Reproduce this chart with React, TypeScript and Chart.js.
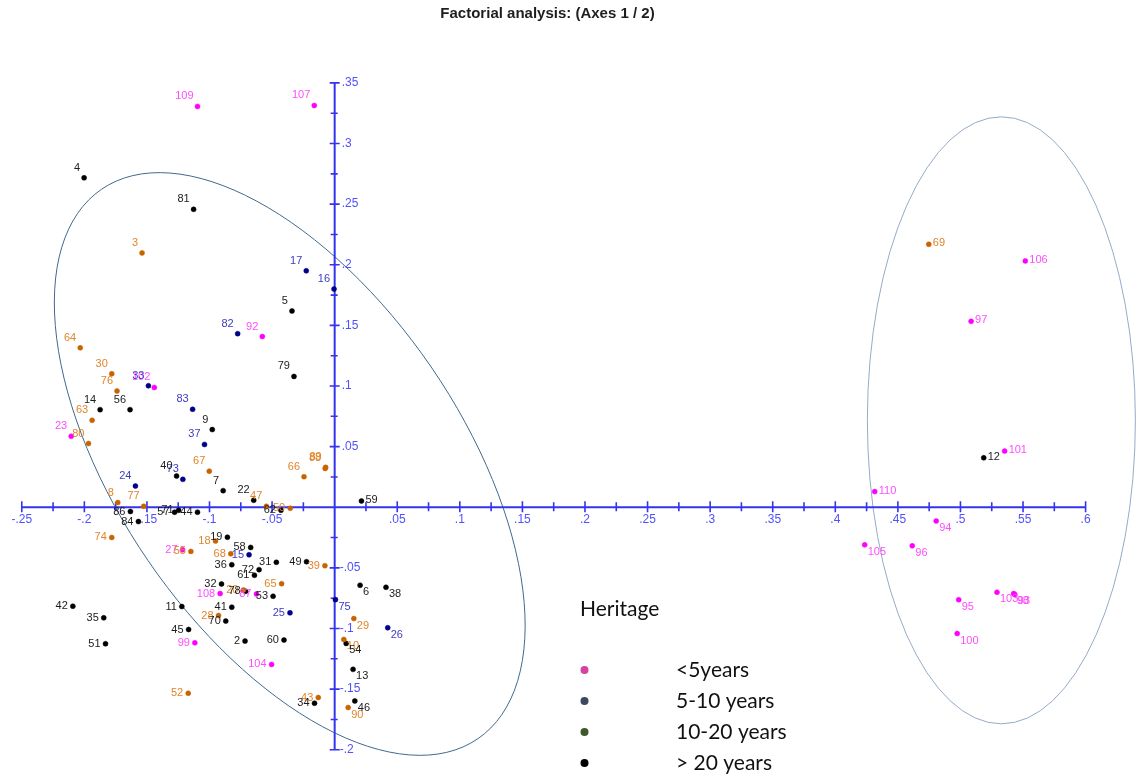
import { useEffect, useRef } from "react";
import { Chart, registerables } from "chart.js";

Chart.register(...registerables);

const CANVAS_W = 1141;
const CANVAS_H = 777;

const chartTitle = "Factorial analysis: (Axes 1 / 2)";
const legendTitle = "Heritage";
const groupNames = ["<5years", "5-10 years", "10-20 years", "> 20 years"];

// Heritage < 5 years
const under5Ids = ["109", "107", "92", "102", "23", "27", "108", "87", "99", "104", "106", "97", "101", "110", "94", "105", "96", "103", "98", "93", "95", "100"];
const under5X = [-0.1096, -0.0163, -0.0578, -0.1441, -0.2105, -0.1215, -0.0915, -0.0625, -0.1117, -0.0504, 0.5518, 0.5085, 0.5353, 0.4315, 0.4806, 0.4235, 0.4615, 0.5292, 0.5425, 0.5434, 0.4986, 0.4974];
const under5Y = [0.3306, 0.3314, 0.1408, 0.0988, 0.0586, -0.0351, -0.0712, -0.0715, -0.1118, -0.1296, 0.2032, 0.1534, 0.0463, 0.0129, -0.0113, -0.031, -0.0318, -0.0701, -0.0712, -0.0719, -0.0762, -0.1041];

// Heritage 5-10 years
const from5to10Ids = ["17", "16", "82", "33", "83", "37", "73", "24", "15", "25", "75", "26"];
const from5to10X = [-0.0227, -0.0005, -0.0775, -0.1488, -0.1135, -0.104, -0.1213, -0.1592, -0.0684, -0.0357, 0.0006, 0.0424];
const from5to10Y = [0.195, 0.18, 0.1432, 0.1002, 0.0808, 0.0518, 0.023, 0.0175, -0.0392, -0.0871, -0.0762, -0.0994];

// Heritage 10-20 years
const from10to20Ids = ["3", "64", "30", "76", "63", "80", "67", "66", "88", "89", "8", "77", "47", "50", "74", "18", "55", "68", "39", "65", "20", "28", "52", "43", "29", "10", "90", "69"];
const from10to20X = [-0.1539, -0.2033, -0.1781, -0.1739, -0.1938, -0.1967, -0.1002, -0.0245, -0.0076, -0.0072, -0.1733, -0.1526, -0.0546, -0.0355, -0.1781, -0.0952, -0.1149, -0.083, -0.0078, -0.0424, -0.0729, -0.0928, -0.117, -0.0131, 0.0153, 0.0073, 0.0108, 0.4747];
const from10to20Y = [0.2098, 0.1315, 0.1101, 0.0959, 0.0717, 0.0526, 0.0298, 0.0252, 0.032, 0.0329, 0.0039, 0.0008, 0.0008, -0.0008, -0.0249, -0.0279, -0.0364, -0.0384, -0.0482, -0.063, -0.0682, -0.0893, -0.1534, -0.1569, -0.0918, -0.109, -0.1652, 0.2169];

// Heritage > 20 years
const over20Ids = ["4", "81", "5", "79", "14", "56", "9", "40", "7", "22", "59", "86", "84", "57", "71", "44", "62", "19", "58", "36", "31", "49", "72", "61", "32", "78", "53", "11", "41", "70", "45", "2", "60", "34", "42", "35", "51", "6", "38", "54", "13", "46", "12"];
const over20X = [-0.2002, -0.1127, -0.0341, -0.0325, -0.1874, -0.1635, -0.0978, -0.1263, -0.0891, -0.0647, 0.0214, -0.1632, -0.1568, -0.1279, -0.1247, -0.1096, -0.0429, -0.0857, -0.0671, -0.0822, -0.0466, -0.0225, -0.0604, -0.0641, -0.0904, -0.0711, -0.0492, -0.1221, -0.0822, -0.087, -0.1167, -0.0716, -0.0405, -0.0161, -0.2092, -0.1845, -0.1831, 0.0203, 0.041, 0.0092, 0.0147, 0.0161, 0.5186];
const over20Y = [0.2717, 0.2457, 0.1619, 0.1079, 0.0805, 0.0805, 0.0641, 0.0257, 0.0137, 0.0058, 0.0052, -0.0035, -0.0118, -0.0041, -0.0025, -0.0041, -0.0025, -0.0247, -0.0331, -0.0474, -0.0454, -0.0449, -0.0515, -0.0561, -0.0633, -0.0693, -0.0734, -0.0819, -0.0824, -0.0939, -0.1008, -0.1104, -0.1095, -0.1616, -0.0816, -0.0912, -0.1126, -0.0643, -0.066, -0.1123, -0.1337, -0.1597, 0.0408];

// Axis ticks
const xAxisRange = [-0.25, 0.6];
const yAxisRange = [-0.2, 0.35];
const xMajorTicks = [-0.25, -0.2, -0.15, -0.1, -0.05, 0.05, 0.1, 0.15, 0.2, 0.25, 0.3, 0.35, 0.4, 0.45, 0.5, 0.55, 0.6];
const xTickLabels = ["-.25", "-.2", "-.15", "-.1", "-.05", ".05", ".1", ".15", ".2", ".25", ".3", ".35", ".4", ".45", ".5", ".55", ".6"];
const xMinorTicks = [-0.225, -0.175, -0.125, -0.075, -0.025, 0.025, 0.075, 0.125, 0.175, 0.225, 0.275, 0.325, 0.375, 0.425, 0.475, 0.525, 0.575];
const yMajorTicks = [-0.2, -0.15, -0.1, -0.05, 0.05, 0.1, 0.15, 0.2, 0.25, 0.3, 0.35];
const yTickLabels = ["-.2", "-.15", "-.1", "-.05", ".05", ".1", ".15", ".2", ".25", ".3", ".35"];
const yMinorTicks = [-0.175, -0.125, -0.075, -0.025, 0.025, 0.075, 0.125, 0.175, 0.225, 0.275, 0.325];

// Group colours: marker fill and label text
const groupStyles = [
  { point: "#ff00ff", text: "#ff4cff" },
  { point: "#000088", text: "#3c3cc0" },
  { point: "#c86400", text: "#e0852a" },
  { point: "#000000", text: "#1c1c1c" },
];
const legendDotColors = ["#d5439f", "#3c4962", "#3e5a2a", "#000000"];

// Cluster outlines: centre in axis units, radii in pixels
const clusterOutlines = [
  { cx: -0.0359, cy: 0.0357, rx: 333, ry: 171.5, rotationDeg: 55.6, color: "#41698c" },
  { cx: 0.5327, cy: 0.0717, rx: 134, ry: 303.5, rotationDeg: 0, color: "#94abc6" },
];

const AXIS_BLUE = "#3434ee";
const TICK_TEXT = "#5050ff";
const LABEL_FONT = "11px 'Liberation Sans', Arial, sans-serif";
const TICK_FONT = "12px 'Liberation Sans', Arial, sans-serif";

const groups = [
  { ids: under5Ids, xs: under5X, ys: under5Y },
  { ids: from5to10Ids, xs: from5to10X, ys: from5to10Y },
  { ids: from10to20Ids, xs: from10to20X, ys: from10to20Y },
  { ids: over20Ids, xs: over20X, ys: over20Y },
];

const clusterOutlinePlugin = {
  id: "clusterOutlines",
  beforeDatasetsDraw(chart: any) {
    const { ctx, scales } = chart;
    ctx.save();
    ctx.lineWidth = 1;
    clusterOutlines.forEach((e) => {
      ctx.strokeStyle = e.color;
      ctx.beginPath();
      ctx.ellipse(
        scales.x.getPixelForValue(e.cx),
        scales.y.getPixelForValue(e.cy),
        e.rx,
        e.ry,
        (e.rotationDeg * Math.PI) / 180,
        0,
        Math.PI * 2
      );
      ctx.stroke();
    });
    ctx.restore();
  },
};

const crossAxesPlugin = {
  id: "crossAxes",
  beforeDatasetsDraw(chart: any) {
    const { ctx, scales } = chart;
    const sx = scales.x;
    const sy = scales.y;
    const x0 = sx.getPixelForValue(0);
    const y0 = sy.getPixelForValue(0);
    ctx.save();
    ctx.strokeStyle = AXIS_BLUE;
    ctx.lineWidth = 2;
    ctx.beginPath();
    ctx.moveTo(sx.getPixelForValue(xAxisRange[0]), y0);
    ctx.lineTo(sx.getPixelForValue(xAxisRange[1]), y0);
    ctx.moveTo(x0, sy.getPixelForValue(yAxisRange[0]));
    ctx.lineTo(x0, sy.getPixelForValue(yAxisRange[1]));
    ctx.stroke();

    ctx.lineWidth = 1.6;
    ctx.beginPath();
    xMajorTicks.forEach((v) => {
      const p = sx.getPixelForValue(v);
      ctx.moveTo(p, y0 - 6);
      ctx.lineTo(p, y0 + 5);
    });
    xMinorTicks.forEach((v) => {
      const p = sx.getPixelForValue(v);
      ctx.moveTo(p, y0 - 5);
      ctx.lineTo(p, y0 + 4);
    });
    yMajorTicks.forEach((v) => {
      const p = sy.getPixelForValue(v);
      ctx.moveTo(x0 - 5, p);
      ctx.lineTo(x0 + 5, p);
    });
    yMinorTicks.forEach((v) => {
      const p = sy.getPixelForValue(v);
      ctx.moveTo(x0 - 4, p);
      ctx.lineTo(x0 + 3, p);
    });
    ctx.stroke();

    ctx.fillStyle = TICK_TEXT;
    ctx.font = TICK_FONT;
    ctx.textBaseline = "middle";
    ctx.textAlign = "center";
    xMajorTicks.forEach((v, i) => {
      ctx.fillText(xTickLabels[i], sx.getPixelForValue(v), y0 + 12);
    });
    ctx.textAlign = "left";
    yMajorTicks.forEach((v, i) => {
      const shift = v < 0 ? 5 : 7;
      ctx.fillText(yTickLabels[i], x0 + shift, sy.getPixelForValue(v));
    });
    ctx.restore();
  },
};

const pointLabelPlugin = {
  id: "pointLabels",
  afterDatasetsDraw(chart: any) {
    const { ctx } = chart;
    ctx.save();
    ctx.font = LABEL_FONT;
    ctx.textBaseline = "middle";
    chart.data.datasets.forEach((ds: any, di: number) => {
      const meta = chart.getDatasetMeta(di);
      ctx.fillStyle = groupStyles[di].text;
      meta.data.forEach((el: any, i: number) => {
        const raw = ds.data[i];
        let tx = el.x;
        let ty = el.y;
        if (raw.x < 0 && raw.y >= 0) {
          ctx.textAlign = "right";
          tx = el.x - 4;
          ty = el.y - 10;
        } else if (raw.x >= 0 && raw.y >= 0) {
          ctx.textAlign = "left";
          tx = el.x + 4;
          ty = el.y - 1;
        } else if (raw.x < 0) {
          ctx.textAlign = "right";
          tx = el.x - 5;
          ty = el.y;
        } else {
          ctx.textAlign = "left";
          tx = el.x + 3;
          ty = el.y + 7;
        }
        ctx.fillText(raw.id, tx, ty);
      });
    });
    ctx.restore();
  },
};

const heritageLegendPlugin = {
  id: "heritageLegend",
  afterDraw(chart: any) {
    const { ctx } = chart;
    ctx.save();
    ctx.fillStyle = "#111111";
    ctx.textBaseline = "middle";
    ctx.textAlign = "left";
    ctx.font = "21px Lato, 'Open Sans', sans-serif";
    ctx.fillText(legendTitle, 580, 609);
    groupNames.forEach((name, i) => {
      const cy = 670 + i * 31;
      ctx.fillStyle = legendDotColors[i];
      ctx.beginPath();
      ctx.arc(584.5, cy, 4, 0, Math.PI * 2);
      ctx.fill();
      ctx.fillStyle = "#111111";
      ctx.fillText(name, 676, cy);
    });
    ctx.restore();
  },
};

export default function App() {
  const canvasRef = useRef<HTMLCanvasElement | null>(null);

  useEffect(() => {
    const canvas = canvasRef.current;
    if (!canvas) return;
    const chart = new Chart(canvas, {
      type: "scatter",
      data: {
        datasets: groups.map((g, gi) => ({
          label: groupNames[gi],
          data: g.xs.map((x, i) => ({ x, y: g.ys[i], id: g.ids[i] })),
          pointRadius: 2.5,
          pointHoverRadius: 2.5,
          pointStyle: "circle",
          backgroundColor: groupStyles[gi].point,
          borderColor: groupStyles[gi].point,
          borderWidth: 0.5,
          showLine: false,
        })),
      },
      options: {
        responsive: false,
        animation: false,
        events: [],
        layout: { padding: { left: 0, right: 46, top: 0, bottom: 0.26 } },
        scales: {
          x: { type: "linear", min: -0.265, max: 0.6075, display: false },
          y: { type: "linear", min: -0.22, max: 0.39, display: false },
        },
        plugins: {
          legend: { display: false },
          tooltip: { enabled: false },
          title: {
            display: true,
            text: chartTitle,
            color: "#1e1e1e",
            font: { family: "'Liberation Sans', Arial, sans-serif", size: 15, weight: "bold" },
            padding: { top: 5, bottom: 11.4 },
          },
        },
      } as any,
      plugins: [clusterOutlinePlugin, crossAxesPlugin, pointLabelPlugin, heritageLegendPlugin],
    });
    return () => chart.destroy();
  }, []);

  return (
    <div style={{ position: "absolute", left: 0, top: 0, width: CANVAS_W, height: CANVAS_H, background: "#ffffff" }}>
      <canvas ref={canvasRef} width={CANVAS_W} height={CANVAS_H} style={{ display: "block" }} />
    </div>
  );
}
